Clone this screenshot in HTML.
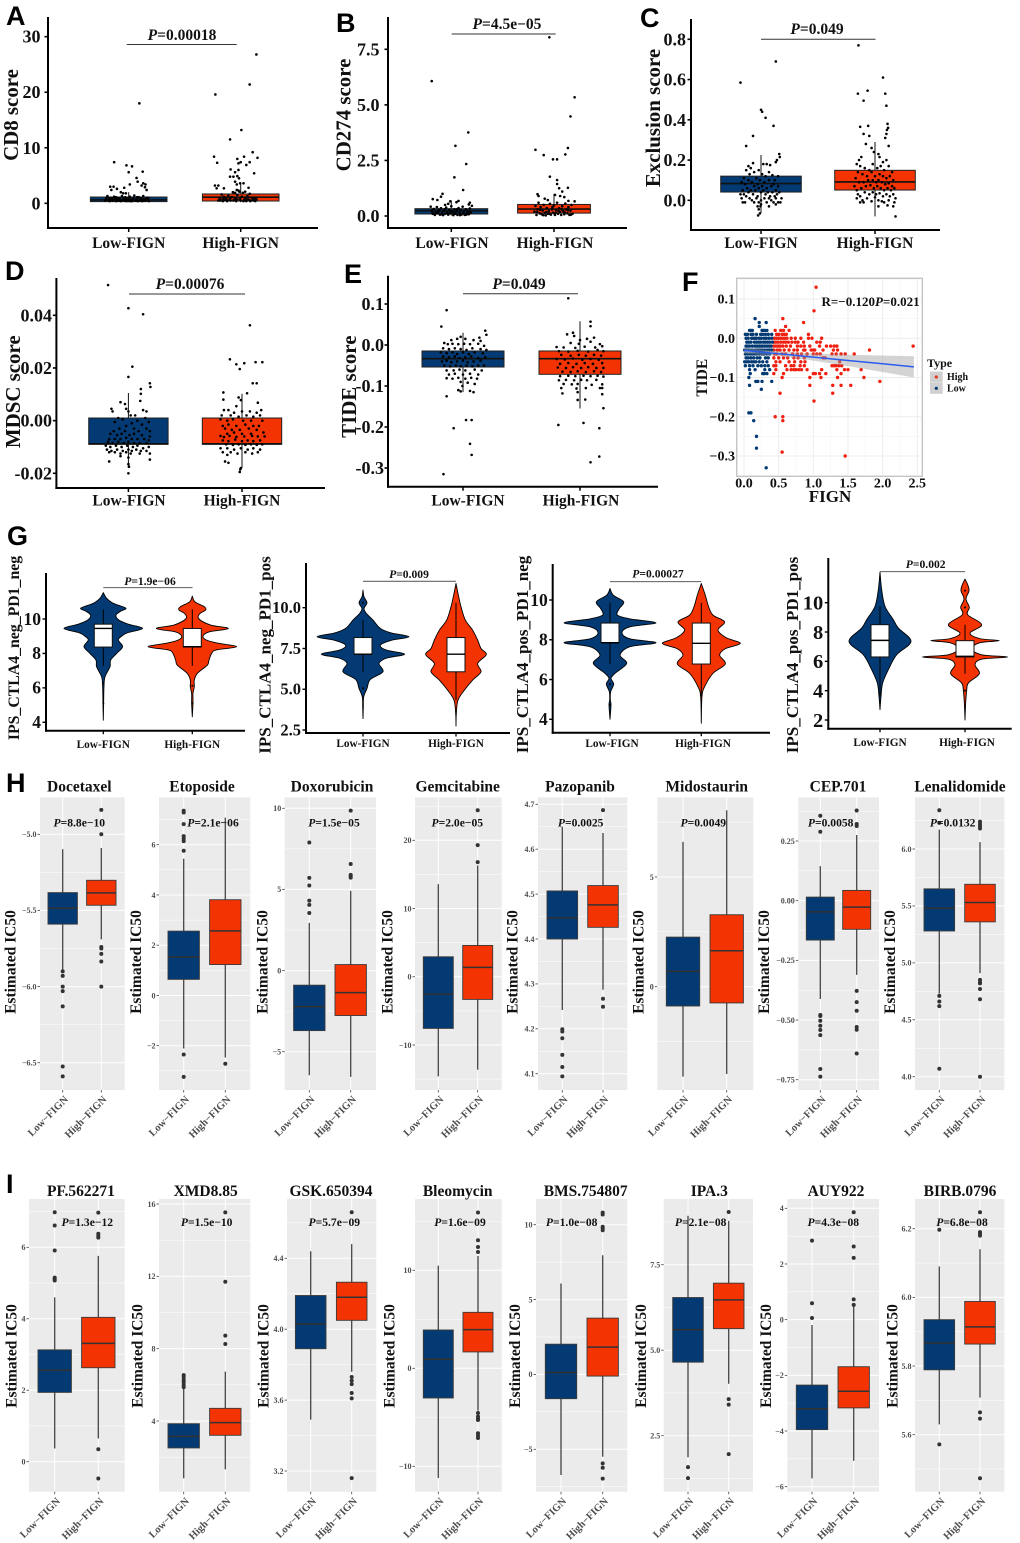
<!DOCTYPE html>
<html lang="en">
<head>
<meta charset="utf-8">
<title>FIGN immune and drug response figure</title>
<style>
html,body{margin:0;padding:0;background:#fff}
svg{display:block;font-family:"Liberation Serif",serif}
text{font-family:"Liberation Serif",serif}
.letter{font-family:"Liberation Sans",sans-serif;font-weight:700;font-size:27px;fill:#000}
</style>
</head>
<body>
<svg id="figure" xmlns="http://www.w3.org/2000/svg" width="1020" height="1543" viewBox="0 0 1020 1543">
<rect width="1020" height="1543" fill="#fff"/>
<text class="letter" x="6" y="25">A</text>
<text class="letter" x="336" y="32">B</text>
<text class="letter" x="640" y="27">C</text>
<text class="letter" x="5" y="280">D</text>
<text class="letter" x="344" y="283">E</text>
<text class="letter" x="682" y="291">F</text>
<text class="letter" x="7" y="545">G</text>
<text class="letter" x="6" y="792">H</text>
<text class="letter" x="6" y="1193">I</text>
</svg>
<script>
/* ---------- panels A-E : strip + box ---------- */
const stripTitles=["CD8 score","CD274 score","Exclusion score","MDSC score","TIDE score"];
const stripP=["0.00018","4.5e\u221205","0.049","0.00076","0.049"];
const stripCategories=["Low-FIGN","High-FIGN"];
const stripTickValues=[[30,20,10,0],[7.5,5,2.5,0],[0.8,0.6,0.4,0.2,0],[0.04,0.02,0,-0.02],[0.1,0,-0.1,-0.2,-0.3]];
const stripTickLabels=[["30","20","10","0"],["7.5","5.0","2.5","0.0"],["0.8","0.6","0.4","0.2","0.0"],["0.04","0.02","0.00","-0.02"],["0.1","0.0","-0.1","-0.2","-0.3"]];
/* q3, median, q1, whisker high, whisker low */
const stripLowBoxes=[[1.13,0.6,0.3,2,0.2],[0.33,0.24,0.09,0.7,0.02],[0.12,0.083,0.041,0.225,-0.063],[0.001,-0.0088,-0.009,0.0105,-0.018],[-0.0146,-0.0333,-0.0537,0.03,-0.115]];
const stripHighBoxes=[[1.68,1.1,0.41,3.5,0.2],[0.52,0.31,0.13,1,0.02],[0.149,0.091,0.051,0.29,-0.08],[0.001,-0.0088,-0.009,0.0102,-0.018],[-0.0146,-0.0333,-0.0715,0.058,-0.155]];
/* jitter (fraction of category spacing), value */
const aLow=[[.095,18],[-.13,7.4],[-.02,6.84],[.03,6.66],[0,5.6],[.125,5.7],[.07,4.56],[.08,3.9],[.01,3.4],[.13,3.6],[.15,3.4],[.115,3.2],[.145,2.9],[.16,2.4],[-.165,3],[-.135,3],[-.155,2.4],[-.105,2.6],[-.04,2.8],[-.07,2],[-.05,1.8],[-.025,1.8],[-.21,.5],[-.2,.9],[-.19,1.3],[-.18,.6],[-.17,.4],[-.16,1],[-.15,.7],[-.14,.5],[-.13,1.2],[-.12,.8],[-.11,.4],[-.1,1],[-.09,.6],[-.08,.9],[-.07,.4],[-.06,1.3],[-.05,.7],[-.04,.5],[-.03,1.1],[-.02,.4],[-.01,.8],[0,.5],[.01,1.2],[.02,.6],[.03,.4],[.04,.9],[.05,1.4],[.06,.5],[.07,.8],[.08,.4],[.09,1.1],[.1,.6],[.11,.9],[.12,.4],[.13,1.3],[.14,.7],[.15,.5],[.16,1],[.17,.6],[.18,.4],[-.205,.7],[-.175,1],[-.145,.9],[-.115,1.1],[-.085,.5],[-.055,.6],[-.025,.8],[.005,.9],[.035,.7],[.065,.6],[.095,.5],[.125,.7],[.155,.8],[.175,1],[-.165,.6],[-.105,.7],[-.045,1],[.015,.4],[.075,1.1],[.135,.5]];
const aHigh=[[.14,26.8],[.08,21.4],[-.226,19.6],[.006,13.2],[-.095,11.5],[.107,9.2],[-.238,8.4],[.15,8.2],[.03,8.4],[-.21,7.3],[-.03,8],[.08,7.4],[.05,6.9],[-.02,7.2],[0,7.4],[-.09,6.1],[-.02,6],[.12,5.4],[-.05,5.6],[-.095,4.8],[-.065,4.8],[-.03,4.9],[-.015,4.5],[-.05,3.9],[-.005,3.6],[.025,3.6],[-.035,3.4],[-.23,3.2],[-.2,3.2],[-.15,2.7],[.07,2.8],[-.215,2.7],[-.035,2.4],[.04,2.1],[-.012,2.1],[-.05,1.9],[-.2,.5],[-.19,1],[-.18,.7],[-.17,1.6],[-.16,.4],[-.15,1.2],[-.14,.6],[-.13,.9],[-.12,.4],[-.11,1.4],[-.1,.7],[-.09,.5],[-.08,1.1],[-.07,2],[-.06,.6],[-.05,.9],[-.04,.4],[-.03,1.5],[-.02,2.3],[-.01,.7],[0,.5],[.01,1.2],[.02,1.9],[.03,.6],[.04,.9],[.05,.4],[.06,1.3],[.07,.7],[.08,1.7],[.09,.5],[.1,1],[.11,.6],[.12,.9],[.13,.4],[.14,.7],[-.185,.5],[-.155,.8],[-.125,.6],[-.095,.9],[-.065,.5],[-.035,.7],[-.005,.9],[.025,.4],[.055,.7],[.085,.4],[.115,.5],[.135,1]];
const bLow=[[-.19,6.07],[.165,3.76],[.04,3.16],[.145,2.34],[.03,1.74],[.115,1.17],[-.085,1],[-.1,.87],[-.18,.76],[-.135,.72],[-.01,.66],[.05,.62],[.07,.68],[.18,.6],[.17,.52],[-.03,.55],[-.06,.5],[-.2,.42],[-.19,.25],[-.18,.1],[-.17,.32],[-.16,.05],[-.15,.18],[-.14,.4],[-.13,.12],[-.12,.28],[-.11,.06],[-.1,.35],[-.09,.15],[-.08,.04],[-.07,.24],[-.06,.1],[-.05,.38],[-.04,.16],[-.03,.06],[-.02,.28],[-.01,.12],[0,.44],[.01,.2],[.02,.04],[.03,.3],[.04,.1],[.05,.2],[.06,.05],[.07,.36],[.08,.14],[.09,.26],[.1,.07],[.11,.42],[.12,.18],[.13,.05],[.14,.3],[.15,.12],[.16,.22],[.17,.08],[.18,.34],[.19,.16],[.2,.46],[-.185,.16],[-.155,.1],[-.125,.2],[-.095,.08],[-.065,.3],[-.035,.12],[-.005,.22],[.025,.14],[.055,.3],[.085,.04],[.115,.12],[.145,.06],[.175,.14]];
const bHigh=[[-.045,8.04],[.2,5.34],[.16,4.48],[-.18,2.98],[.135,3.06],[-.1,2.74],[.11,2.77],[-.01,2.55],[.03,2.55],[-.04,1.77],[.03,1.62],[.03,1.44],[.135,1.27],[.05,1.25],[.08,1.1],[-.16,.98],[-.15,.9],[.01,.95],[.06,.9],[.1,.85],[-.09,.78],[-.06,.72],[.14,.68],[.2,.66],[-.19,.2],[-.18,.45],[-.17,.05],[-.16,.3],[-.15,.6],[-.14,.12],[-.13,.4],[-.12,.08],[-.11,.25],[-.1,.5],[-.09,.14],[-.08,.03],[-.07,.36],[-.06,.1],[-.05,.22],[-.04,.55],[-.03,.06],[-.02,.3],[-.01,.15],[0,.48],[.01,.05],[.02,.26],[.03,.6],[.04,.1],[.05,.35],[.06,.18],[.07,.05],[.08,.44],[.09,.22],[.1,.08],[.11,.56],[.12,.3],[.13,.12],[.14,.4],[.15,.05],[.16,.24],[.17,.5],[.18,.1],[-.165,.18],[-.135,.28],[-.105,.04],[-.075,.18],[-.045,.1],[-.015,.4],[.015,.14],[.045,.22],[.075,.3],[.105,.16],[.135,.26],[.165,.06]];
const cLow=[[.13,.69],[-.18,.585],[0,.45],[.01,.44],[.04,.41],[.11,.37],[-.07,.32],[-.13,.27],[.16,.23],[.165,.215],[.14,.2],[.13,.19],[.02,.18],[.05,.18],[.08,.175],[-.11,.17],[-.09,.16],[-.07,.185],[-.13,.15],[-.1,.13],[-.06,.14],[-.02,.15],[.01,.13],[.04,.12],[.07,.14],[.1,.125],[.12,.1],[.15,.12],[-.15,.11],[-.17,.09],[-.14,.08],[-.12,.06],[-.11,.1],[-.08,.09],[-.06,.07],[-.04,.11],[-.03,.08],[-.01,.1],[.01,.07],[.03,.09],[.05,.06],[.07,.1],[.09,.07],[.11,.08],[.13,.05],[.15,.07],[-.16,.05],[-.15,.03],[-.13,.02],[-.11,.04],[-.09,.05],[-.07,.03],[-.05,.05],[-.03,.02],[-.02,.06],[0,.04],[.02,.05],[.04,.03],[.06,.04],[.08,.02],[.1,.04],[.12,.02],[.14,.03],[.16,.04],[.18,.01],[-.17,.01],[-.18,.03],[-.14,-.01],[-.1,.01],[-.08,0],[-.06,-.01],[-.04,.01],[-.02,-.01],[0,0],[.03,.01],[.05,-.01],[.07,.01],[.09,0],[.11,-.01],[.13,.01],[.15,-.01],[.17,-.01],[-.16,-.01],[-.03,-.03],[0,-.02],[.07,-.03],[.13,-.02],[-.02,-.045],[-.005,-.03],[-.01,-.065],[-.025,-.075]];
const cHigh=[[-.145,.77],[.07,.61],[-.15,.53],[-.065,.545],[.09,.53],[-.1,.495],[.1,.47],[-.13,.365],[-.06,.37],[.11,.38],[.115,.36],[.105,.35],[-.1,.33],[-.05,.32],[.1,.33],[.09,.31],[-.08,.28],[-.03,.26],[.12,.27],[-.12,.215],[-.14,.2],[-.01,.24],[.03,.23],[.04,.215],[.1,.2],[.07,.19],[-.16,.18],[-.13,.17],[-.09,.16],[-.05,.15],[-.02,.18],[.02,.16],[.05,.17],[.08,.15],[.12,.17],[.15,.14],[-.15,.14],[-.11,.13],[-.07,.12],[-.03,.14],[0,.12],[.04,.13],[.07,.12],[.1,.11],[.13,.12],[.16,.1],[-.17,.11],[-.14,.09],[-.1,.09],[-.06,.1],[-.02,.1],[.01,.09],[.03,.1],[.06,.09],[.09,.08],[.12,.085],[.15,.07],[-.18,.07],[-.16,.05],[-.12,.06],[-.08,.07],[-.04,.075],[-.01,.06],[.02,.07],[.05,.06],[.08,.05],[.11,.06],[.14,.05],[.17,.06],[-.15,.03],[-.13,.02],[-.09,.04],[-.05,.03],[-.02,.04],[.01,.03],[.04,.035],[.07,.02],[.1,.03],[.13,.02],[.16,.03],[.18,.01],[-.16,.01],[-.11,0],[-.07,.01],[-.03,-.005],[0,.015],[.03,0],[.06,-.005],[.12,0],[.17,-.01],[-.1,-.01],[.08,-.01],[.03,-.03],[.11,-.025],[-.13,-.01],[.16,-.03],[.18,-.08]];
const dLow=[[-.18,.0515],[0,.0427],[.13,.0404],[.035,.0205],[0,.0166],[.19,.0142],[.11,.012],[.195,.0128],[.11,.0102],[.105,.0075],[-.07,.007],[-.03,.0063],[-.15,.0045],[-.14,.0035],[-.02,.0045],[.0,.0035],[.13,.004],[.16,.0035],[.06,.002],[.02,.002],[-.09,.001],[.15,.001],[-.05,.0005],[.08,0],[-.12,-.0005],[.03,-.001],[.18,-.0005],[-.02,-.002],[.12,-.0015],[-.08,-.003],[.05,-.003],[.16,-.003],[-.13,-.004],[-.03,-.004],[.09,-.004],[.19,-.004],[-.16,-.005],[-.1,-.0055],[-.06,-.005],[.01,-.0055],[.05,-.005],[.12,-.0055],[.19,-.006],[-.17,-.007],[-.12,-.007],[-.07,-.007],[-.02,-.0065],[.03,-.007],[.08,-.007],[.14,-.007],[.18,-.0075],[-.18,-.008],[-.14,-.0085],[-.09,-.008],[-.04,-.0085],[0,-.008],[.05,-.0085],[.1,-.0085],[.16,-.0085],[-.2,-.0095],[-.16,-.01],[-.11,-.0095],[-.06,-.01],[-.01,-.0095],[.04,-.01],[.08,-.0095],[.13,-.0105],[.18,-.01],[-.19,-.011],[-.15,-.0115],[-.1,-.011],[-.05,-.0115],[0,-.011],[.03,-.0115],[.07,-.011],[.11,-.0115],[.16,-.0115],[-.17,-.012],[-.12,-.012],[-.07,-.0125],[-.02,-.012],[.02,-.0125],[.1,-.0125],[.19,-.0125],[-.07,-.0135],[0,-.014],[.19,-.0148],[-.17,-.0155],[0,-.0165],[.005,-.0175],[0,-.02]];
const dHigh=[[.07,.0362],[-.107,.0233],[.12,.0222],[.18,.0222],[-.05,.0214],[.02,.0218],[-.02,.0196],[.095,.0142],[.13,.0142],[-.165,.0107],[.045,.0104],[-.165,.008],[-.03,.0088],[-.01,.0078],[.14,.0068],[-.05,.0055],[.17,.004],[-.16,.004],[-.12,.004],[-.07,.003],[.0,.0035],[.07,.0035],[.13,.003],[-.18,.002],[-.1,.002],[-.03,.0015],[.04,.002],[.1,.0015],[.16,.002],[-.19,.0005],[-.13,0],[-.08,.0005],[.01,0],[.08,0],[.18,0],[-.17,-.002],[-.12,-.0015],[-.05,-.002],[.03,-.0015],[.1,-.002],[.15,-.002],[-.15,-.003],[-.09,-.0035],[-.02,-.0035],[.06,-.003],[.13,-.0035],[-.13,-.005],[-.07,-.0045],[0,-.005],[.08,-.005],[.19,-.0045],[-.19,-.0058],[-.16,-.0062],[-.11,-.0058],[-.05,-.0062],[.02,-.006],[.09,-.0058],[.14,-.006],[.2,-.006],[-.17,-.0075],[-.12,-.0078],[-.06,-.0072],[.0,-.0078],[.05,-.0075],[.1,-.0078],[.16,-.0075],[-.14,-.009],[-.08,-.0092],[-.03,-.009],[.03,-.0092],[.08,-.009],[.13,-.0092],[.18,-.009],[-.19,-.0105],[-.13,-.0105],[-.07,-.011],[-.01,-.0105],[.05,-.011],[.1,-.0105],[.16,-.011],[-.17,-.012],[-.1,-.012],[-.04,-.0125],[.03,-.012],[.09,-.0125],[.14,-.012],[-.13,-.013],[-.15,-.0155],[-.12,-.016],[-.01,-.018],[-.015,-.0185],[-.02,-.0195]];
const eLow=[[-.14,.085],[-.185,.045],[-.167,-.315],[-.08,-.203],[.026,-.183],[.074,-.183],[.06,-.241],[.074,-.268],[.19,.035],[.2,.025],[.14,.018],[.15,.01],[-.05,.015],[-.1,.012],[-.02,.02],[.02,.015],[.09,.012],[-.16,.005],[-.13,.002],[-.09,.003],[-.04,.002],[.01,.003],[.06,.002],[.13,.003],[.18,-.002],[-.17,-.008],[-.12,-.01],[-.07,-.008],[-.02,-.01],[.03,-.012],[.08,-.008],[.15,-.01],[.2,-.012],[-.19,-.018],[-.14,-.02],[-.09,-.018],[-.05,-.022],[0,-.018],[.05,-.022],[.1,-.018],[.17,-.02],[-.17,-.028],[-.12,-.03],[-.07,-.028],[-.03,-.032],[.02,-.03],[.07,-.028],[.13,-.032],[.19,-.03],[-.18,-.04],[-.14,-.038],[-.1,-.042],[-.05,-.04],[0,-.038],[.04,-.042],[.09,-.04],[.15,-.038],[-.16,-.05],[-.11,-.052],[-.06,-.05],[-.02,-.052],[.03,-.05],[.08,-.052],[.13,-.05],[.18,-.05],[-.14,-.062],[-.08,-.062],[-.03,-.06],[.02,-.062],[.1,-.06],[.16,-.062],[-.12,-.072],[-.07,-.07],[0,-.072],[.06,-.07],[.13,-.072],[-.14,-.081],[-.09,-.082],[-.04,-.08],[.02,-.082],[.07,-.08],[.12,-.082],[-.02,-.09],[-.005,-.1],[.04,-.092],[.1,-.095],[-.04,-.11],[-.02,-.113],[.06,-.112],[.09,-.115],[-.14,-.125]];
const eHigh=[[-.1,.114],[.09,.057],[.09,.046],[-.185,-.195],[.03,-.19],[.165,-.203],[.09,-.286],[.165,-.272],[.2,-.154],[.19,-.12],[-.02,-.134],[.045,-.133],[-.15,-.118],[-.11,.026],[-.06,.03],[-.05,.022],[0,.012],[.06,.015],[.12,.018],[-.08,.005],[-.01,.003],[.09,.008],[.17,.002],[-.2,-.005],[-.14,-.006],[-.04,-.007],[.04,-.004],[.13,-.006],[.19,-.003],[-.18,-.015],[-.1,-.016],[-.02,-.014],[.07,-.016],[.15,-.012],[.2,-.015],[-.16,-.024],[-.08,-.026],[-.01,-.024],[.05,-.026],[.12,-.024],[.18,-.026],[-.2,-.034],[-.13,-.035],[-.06,-.033],[.02,-.036],[.09,-.034],[.16,-.036],[-.17,-.046],[-.1,-.044],[-.03,-.046],[.04,-.044],[.11,-.046],[.19,-.044],[-.19,-.055],[-.12,-.056],[-.06,-.054],[.01,-.056],[.07,-.054],[.14,-.056],[.2,-.056],[-.15,-.065],[-.08,-.066],[-.02,-.064],[.05,-.066],[.12,-.064],[.18,-.066],[-.17,-.076],[-.1,-.075],[-.04,-.076],[.03,-.075],[.09,-.076],[.15,-.075],[.2,-.077],[-.18,-.086],[-.12,-.085],[-.05,-.086],[.01,-.085],[.06,-.086],[.14,-.085],[-.14,-.095],[-.07,-.096],[-.02,-.095],[.1,-.097],[.19,-.096],[-.16,-.105],[-.03,-.106],[.05,-.105],[.17,-.105],[-.02,-.115],[.19,-.105]];
const stripPoints=[[aLow,aHigh],[bLow,bHigh],[cLow,cHigh],[dLow,dHigh],[eLow,eHigh]];

/* ---------- panel F : correlation scatter ---------- */
const scatterXTicks=[0,0.5,1,1.5,2,2.5];
const scatterXLabels=["0.0","0.5","1.0","1.5","2.0","2.5"];
const scatterYTicks=[0.1,0,-0.1,-0.2,-0.3];
const scatterYLabels=["0.1","0.0","\u22120.1","\u22120.2","\u22120.3"];
/* each row: TIDE value, FIGN values */
const scatterLowRows=[[.05,[.16]],[.04,[.22,.32]],[.03,[.22]],[.02,[.08,.1,.12,.26,.28,.3,.33]],[.01,[.02,.05,.1,.13,.18,.24,.27,.31,.35,.4]],[0,[.03,.06,.11,.13,.16,.18,.22,.25,.29,.32,.36,.4]],[-.01,[.04,.07,.1,.15,.18,.21,.24,.28,.31,.34,.37,.41]],[-.02,[.03,.05,.08,.12,.16,.19,.22,.25,.27,.3,.33,.36,.39]],[-.03,[.01,.04,.07,.1,.13,.17,.2,.23,.26,.3,.34,.37,.4]],[-.04,[.02,.05,.09,.12,.15,.18,.22,.26,.29,.33,.37]],[-.05,[.03,.06,.1,.14,.19,.23,.31,.35]],[-.06,[.01,.04,.07,.11,.14,.17,.22,.27,.33]],[-.07,[.02,.08,.13,.2,.25,.3,.35]],[-.08,[.08,.16,.3,.37]],[-.09,[.09,.27,.29,.33]],[-.1,[.07]],[-.11,[.17,.2,.26,.4]],[-.12,[.08]],[-.13,[.25]],[-.19,[.07,.1]],[-.21,[.14]],[-.25,[.18]],[-.28,[.18]],[-.33,[.32]]];
const scatterHighRows=[[.13,[1.04]],[.07,[1.01]],[.05,[.56]],[.04,[.86]],[.03,[.6]],[.02,[.45,.53,.57,.65]],[.01,[.47,.5,.55,.58,.61,.93]],[0,[.44,.47,.5,.53,.56,.59,.62,.68,.74,.82,.93,.98,1.12]],[-.01,[.43,.46,.49,.53,.57,.6,.64,.69,.74,.78,.86,1.05,1.1]],[-.02,[.43,.46,.49,.52,.56,.61,.67,.77,.82,.87,.95,1.09,1.19,1.25,1.3,1.34,2.44]],[-.03,[.43,.48,.52,.58,.65,.72,.77,.86,.88,.97,1,1.02,1.14,1.29,1.35,1.81]],[-.04,[.44,.47,.55,.6,.7,.77,.83,.91,1,1.05,1.1,1.27,1.33,1.4,1.46,1.59]],[-.05,[.43,.5,.57,.63,.72,.78,.87,1.14,1.17]],[-.06,[.46,.52,.65,.73,.82,.88,1.38]],[-.07,[.43,.46,.6,.68,.72,.81,.87,1.27,1.3,1.33,1.37,1.41]],[-.08,[.46,.62,.68,.72,.75,.79,.83,.91,1.12,1.34,1.45,1.5,1.69]],[-.09,[.43,.57,1,1.03,1.09,1.18,1.4]],[-.1,[.55,.95,1.11,1.35,1.73]],[-.11,[1.96]],[-.12,[.95,1.28,1.4,1.54]],[-.14,[.52,1.28]],[-.16,[1.01]],[-.2,[.45,.56]],[-.21,[.56]],[-.29,[.55]],[-.3,[1.46]]];
const fitX=[0,0.5,1,1.5,2,2.45];
const fitY=[-0.031,-0.0396,-0.048,-0.0566,-0.065,-0.073];
const fitUpper=[-0.024,-0.033,-0.039,-0.042,-0.044,-0.046];
const fitLower=[-0.039,-0.046,-0.057,-0.071,-0.086,-0.1];

/* ---------- panel G : violins ---------- */
const violinTitles=["IPS_CTLA4_neg_PD1_neg","IPS_CTLA4_neg_PD1_pos","IPS_CTLA4_pos_PD1_neg","IPS_CTLA4_pos_PD1_pos"];
const violinP=["1.9e\u221206","0.009","0.00027","0.002"];
const violinTickValues=[[10,8,6,4],[10,7.5,5,2.5],[10,8,6,4],[10,8,6,4,2]];
const violinTickLabels=[["10","8","6","4"],["10.0","7.5","5.0","2.5"],["10","8","6","4"],["10","8","6","4","2"]];
/* value, density */
const g1LowShape=[[11.53,0],[11.2,10],[10.95,26],[10.8,45],[10.62,68],[10.45,52],[10.23,38],[9.95,46],[9.7,75],[9.45,118],[9.2,72],[9.0,55],[8.78,45],[8.39,58],[8,40],[7.61,22],[7.22,20],[6.64,5],[6.06,2],[5.09,1],[4.12,0]];
const g1HighShape=[[11.33,0],[11,8],[10.71,36],[10.52,40],[10.3,22],[10,20],[9.65,55],[9.45,108],[9.25,50],[9,32],[8.78,42],[8.6,75],[8.39,133],[8.2,72],[8,58],[7.61,50],[7.32,45],[6.84,15],[6.45,6],[6.06,6],[5.67,2],[5.09,2],[4.32,0]];
const g2LowShape=[[11.08,0],[10.67,3],[10.3,12],[9.95,3],[9.65,10],[9.24,30],[8.73,52],[8.45,85],[8.22,138],[8,85],[7.7,52],[7.4,70],[7.15,125],[6.9,70],[6.58,48],[6.07,60],[5.6,22],[5.05,12],[4.53,2],[3.92,1],[3.2,0]];
const g2HighShape=[[11.49,0],[10.87,6],[10.06,15],[9.24,28],[8.62,50],[8.01,65],[7.5,75],[7.13,91],[6.58,65],[6.07,75],[5.56,50],[4.94,25],[4.33,6],[3.5,1],[2.74,0]];
const g3LowShape=[[10.58,0],[10.24,10],[9.91,41],[9.57,28],[9.24,22],[9.05,60],[8.85,138],[8.65,60],[8.35,36],[8.05,60],[7.85,138],[7.65,60],[7.23,30],[6.81,50],[6.31,15],[6.06,3],[5.77,11],[5.39,2],[4.97,1],[4.72,3],[4,0]];
const g3HighShape=[[10.83,0],[10.24,12],[9.66,22],[9.24,35],[8.9,70],[8.49,50],[8.1,75],[7.82,117],[7.55,72],[7.23,55],[6.78,72],[6.31,35],[5.64,10],[5.14,2],[3.8,0]];
const g4LowShape=[[12.09,0],[10.89,5],[9.75,15],[8.84,40],[8.27,55],[7.36,93],[6.45,50],[5.43,25],[4.52,8],[3.61,3],[2.7,0]];
const g4HighShape=[[11.61,0],[11.23,8],[10.82,12],[10.25,3],[9.68,13],[9.18,8],[8.5,50],[7.93,15],[7.55,45],[7.41,103],[7.27,45],[6.86,20],[6.45,50],[6.3,128],[6.15,50],[5.77,30],[5.16,43],[4.52,10],[4,5],[3.16,2],[2,0]];
const violinShapes=[[g1LowShape,g1HighShape],[g2LowShape,g2HighShape],[g3LowShape,g3HighShape],[g4LowShape,g4HighShape]];
const violinLowBoxes=[[9.7,9.45,8.37,10.56,7.28],[8.17,7.15,7.15,9.24,6.07],[8.84,7.85,7.85,9.86,6.78],[8.5,7.43,6.3,9.75,3.61]];
const violinHighBoxes=[[9.45,8.39,8.37,10.56,7.28],[8.17,7.15,6.07,10.3,4.33],[8.84,7.82,6.78,9.86,5.14],[7.41,6.34,6.3,8.5,5.16]];
const violinLowOutliers=[[6.26,5.1],[10.3,5.05],[5.77,4.72],[]];
const violinHighOutliers=[[6.12,5.1],[],[],[10.82,9.68,4]];

/* ---------- panels H and I : drug IC50 boxplots ---------- */
const drugNames=["Docetaxel","Etoposide","Doxorubicin","Gemcitabine","Pazopanib","Midostaurin","CEP.701","Lenalidomide","PF.562271","XMD8.85","GSK.650394","Bleomycin","BMS.754807","IPA.3","AUY922","BIRB.0796"];
const drugP=["8.8e\u221210","2.1e\u221206","1.5e\u221205","2.0e\u221205","0.0025","0.0049","0.0058","0.0132","1.3e\u221212","1.5e\u221210","5.7e\u221209","1.6e\u221209","1.0e\u221208","2.1e\u221208","4.3e\u221208","6.8e\u221208"];
const drugTickValues=[[-5,-5.5,-6,-6.5],[6,4,2,0,-2],[10,5,0,-5],[20,10,0,-10],[4.7,4.6,4.5,4.4,4.3,4.2,4.1],[5,0],[.25,0,-.25,-.5,-.75],[6,5.5,5,4.5,4],[6,4,2,0],[16,12,8,4],[4.4,4,3.6,3.2],[10,0,-10],[10,5,0,-5],[7.5,5,2.5],[4,2,0,-2,-4,-6],[6.2,6,5.8,5.6]];
const drugTickLabels=[["\u22125.0","\u22125.5","\u22126.0","\u22126.5"],["6","4","2","0","\u22122"],["10","5","0","\u22125"],["20","10","0","\u221210"],["4.7","4.6","4.5","4.4","4.3","4.2","4.1"],["5","0"],["0.25","0.00","\u22120.25","\u22120.50","\u22120.75"],["6.0","5.5","5.0","4.5","4.0"],["6","4","2","0"],["16","12","8","4"],["4.4","4.0","3.6","3.2"],["10","0","\u221210"],["10","5","0","\u22125"],["7.5","5.0","2.5"],["4","2","0","\u22122","\u22124","\u22126"],["6.2","6.0","5.8","5.6"]];
/* q3, median, q1, whisker high, whisker low */
const drugLowBoxes=[[-5.383,-5.486,-5.59,-5.098,-5.89],[2.56,1.525,.64,5.44,-2.11],[-.9,-2.22,-3.7,2.94,-6.45],[2.93,-2.54,-7.57,13.58,-14.6],[4.507,4.447,4.4,4.65,4.242],[2.26,.7,-.88,6.6,-4.1],[.015,-.047,-.165,.145,-.412],[5.65,5.48,5.28,6.17,4.73],[3.13,2.56,1.94,4.6,.37],[3.85,3.15,2.51,5.8,.83],[4.19,4.03,3.89,4.44,3.49],[3.91,.92,-3.03,10.48,-11.2],[2.02,.13,-1.62,6.07,-6.72],[6.54,5.6,4.65,8.93,1.87],[-2.35,-3.2,-3.95,-.19,-5.7],[5.935,5.867,5.789,6.09,5.63]];
const drugHighBoxes=[[-5.302,-5.385,-5.466,-5.09,-5.69],[3.81,2.57,1.23,7.08,-2.47],[.37,-1.36,-2.77,4.91,-6.55],[4.59,1.37,-3.32,16.3,-13.63],[4.519,4.476,4.426,4.636,4.287],[3.28,1.64,-.74,8.04,-3.98],[.043,-.027,-.12,.275,-.311],[5.69,5.53,5.36,6.06,4.91],[4.04,3.31,2.63,5.76,.65],[4.7,3.91,3.21,6.73,1.33],[4.265,4.18,4.05,4.48,3.76],[5.71,3.95,1.67,11.46,-4.32],[3.76,1.82,-.11,7.96,-5.5],[6.96,6.47,5.63,8.78,4.02],[-1.69,-2.57,-3.17,.47,-5.07],[5.988,5.914,5.864,6.14,5.708]];
const drugLowOutliers=[[-5.9,-5.93,-6,-6.03,-6.13,-6.525,-6.59],[7.35,7.28,6.82,6.34,6.24,6.14,5.76,-2.35,-3.24],[7.89,5.71,5.24,4.31,4.05,3.55],[],[4.199,4.194,4.179,4.142,4.115,4.094],[],[.356,.289,-.479,-.483,-.503,-.524,-.542,-.563,-.705,-.737],[6.34,6.23,4.71,4.66,4.62,4.07],[6.98,6.61,5.91,5.15,5.11,5.07],[6.54,6.41,6.27,6.14,5.99,5.87],[],[],[],[1.58,1.26],[2.84,.59,.06],[6.197,5.572]];
const drugHighOutliers=[[-4.84,-5,-5.74,-5.75,-5.785,-5.835,-6],[-2.72],[9.86,6.57,5.9,5.81,5.73],[24.4,19.3,16.8],[4.687,4.267,4.249],[],[.378,.321,.313,-.378,-.425,-.461,-.529,-.541,-.64],[6.24,6.22,6.2,6.18,4.85,4.83,4.82,4.77,4.68,4],[6.97,6.38,6.32,6.27,.35,-.47],[15.54,11.7,8.72,8.26],[4.66,3.73,3.71,3.69,3.64,3.61,3.16],[15.9,13.06,12.38,11.87,-4.56,-4.93,-5.14,-5.27,-6.63,-6.87,-7.11],[10.81,10.68,9.86,9.77,9.63,-5.94,-6.23,-6.96],[9.04,3.57,3.41,1.96],[3.86,2.63,2.22,.73,.53],[6.248,6.19,6.185,6.18,5.665,5.647,5.473]];

/* ---------- layout (axis geometry only) ---------- */
const LOW='#033a73',HIGH='#f43303';
const NS='http://www.w3.org/2000/svg';
const root=document.getElementById('figure');
function mk(tag,attrs,parent,txt){
  const el=document.createElementNS(NS,tag);
  for(const k in attrs)el.setAttribute(k,attrs[k]);
  if(txt!==undefined)el.textContent=txt;
  (parent||root).appendChild(el);
  return el;
}
function linearScale(vA,pA,vB,pB){return v=>pA+(v-vA)*(pB-pA)/(vB-vA);}
function slug(s){return s.toLowerCase().replace(/[^a-z0-9]+/g,'-');}
function pLabel(parent,x,y,value,size,name){
  const t=mk('text',{x:x,y:y,'text-anchor':'middle','font-size':size,'font-weight':'700',fill:'#111'},parent);
  
  
  mk('tspan',{'font-style':'italic'},t,'P');
  mk('tspan',{},t,'='+value);
  return t;
}
function yTitle(parent,x,y,txt,size,name){
  const t=mk('text',{transform:'translate('+x+','+y+') rotate(-90)','text-anchor':'middle','font-size':size,'font-weight':'700',fill:'#111'},parent,txt);
  
  
  return t;
}
/* Catmull-Rom curve that passes through every density point, so spikes keep full width */
function smoothEdge(pts){
  let d='L'+pts[0][0]+' '+pts[0][1];
  for(let i=0;i<pts.length-1;i++){
    const p0=pts[Math.max(0,i-1)],p1=pts[i],p2=pts[i+1],p3=pts[Math.min(pts.length-1,i+2)];
    const c1x=p1[0]+(p2[0]-p0[0])/6,c1y=p1[1]+(p2[1]-p0[1])/6;
    const c2x=p2[0]-(p3[0]-p1[0])/6,c2y=p2[1]-(p3[1]-p1[1])/6;
    d+='C'+c1x+' '+c1y+' '+c2x+' '+c2y+' '+p2[0]+' '+p2[1];
  }
  return d;
}

/* ---------- draw A-E ---------- */
const stripLayout=[
 {ax:48,top:17,bot:228,right:318,c:[128.7,240.7],lab:[128.7,240.7],hw:38.3,s:[30,36.7,0,203.3],ty:[11,115],p:[182,40],line:[126.7,236.7,44.5],labY:248,sp:112,tickEnd:40.5},
 {ax:388,top:17,bot:228,right:627,c:[451.3,554],lab:[452,555],hw:36.4,s:[7.5,49.3,0,216],ty:[343.7,115],p:[507,29],line:[451.7,555.7,34],labY:248,sp:103,tickEnd:379.5},
 {ax:691,top:19,bot:230,right:940,c:[761,875],lab:[761,875],hw:40.3,s:[0.8,39.3,0,200.3],ty:[653,118],p:[817,34],line:[761,875.5,39.3],labY:248,sp:114,tickEnd:686},
 {ax:56.4,top:278,bot:488,right:325,c:[128.4,242],lab:[129,242],hw:39.7,s:[0.04,315.3,-0.02,473.3],ty:[13,391.7],p:[190,289],line:[129,245,294],labY:505.5,sp:113,tickEnd:52},
 {ax:388,top:275.7,bot:486.7,right:658,c:[463,580],lab:[468,581],hw:41,s:[0.1,304,-0.3,468],ty:[349,386.7],p:[519,289],line:[463,578,293.7],labY:505.5,sp:117,tickEnd:384}
];
stripLayout.forEach((L,i)=>{
  const g=mk('g',{});
  
  
  const y=linearScale(L.s[0],L.s[1],L.s[2],L.s[3]);
  const ya=mk('line',{x1:L.ax,x2:L.ax,y1:L.top,y2:L.bot+1,stroke:'#000','stroke-width':2},g);
  
  
  const xa=mk('line',{x1:L.ax-1,x2:L.right,y1:L.bot,y2:L.bot,stroke:'#000','stroke-width':2},g);
  
  
  stripTickValues[i].forEach((v,k)=>{
    const tm=mk('line',{x1:L.ax-3.5,x2:L.ax,y1:y(v),y2:y(v),stroke:'#000','stroke-width':1.6},g);
    
    
    const tl=mk('text',{x:L.tickEnd,y:y(v)+6,'text-anchor':'end','font-size':18,'font-weight':'700',fill:'#111'},g,stripTickLabels[i][k]);
    
    
  });
  yTitle(g,L.ty[0]+7,L.ty[1],stripTitles[i],20.9,'y-axis-title');
  pLabel(g,L.p[0],L.p[1],stripP[i],15.5,'p-value');
  const br=mk('line',{x1:L.line[0],x2:L.line[1],y1:L.line[2],y2:L.line[2],stroke:'#333','stroke-width':1},g);
  
  
  [stripLowBoxes[i],stripHighBoxes[i]].forEach((b,k)=>{
    const cx=L.c[k],col=k?HIGH:LOW;
    const wh=mk('line',{x1:cx,x2:cx,y1:y(b[3]),y2:y(b[4]),stroke:'#111','stroke-width':1},g);
    
    
    const bx=mk('rect',{x:cx-L.hw,width:2*L.hw,y:y(b[0]),height:y(b[2])-y(b[0]),fill:col,stroke:'#222','stroke-width':1},g);
    
    
    const md=mk('line',{x1:cx-L.hw,x2:cx+L.hw,y1:y(b[1]),y2:y(b[1]),stroke:'#111','stroke-width':1.6},g);
    
    
    stripPoints[i][k].forEach(pt=>{
      const c=mk('circle',{cx:cx+pt[0]*L.sp,cy:y(pt[1]),r:1.3,fill:'#000'},g);
      
      
    });
    const tk=mk('line',{x1:cx,x2:cx,y1:L.bot,y2:L.bot+4,stroke:'#000','stroke-width':1.5},g);
    
    
    const lb=mk('text',{x:L.lab[k],y:L.labY,'text-anchor':'middle','font-size':15.5,'font-weight':'700',fill:'#111'},g,stripCategories[k]);
    
    
  });
});

/* ---------- draw F ---------- */
(function(){
  const g=mk('g',{});
  
  
  const x=linearScale(0,744,2.5,917.3),y=linearScale(0.1,299,-0.3,456);
  const bg=mk('rect',{x:736.7,y:278.3,width:185.6,height:198,fill:'#fff',stroke:'#c4c4c4','stroke-width':1.4},g);
  
  
  scatterXTicks.forEach((v,k)=>{
    if(k<scatterXTicks.length-1){
      const m=mk('line',{x1:x(v+.25),x2:x(v+.25),y1:279,y2:476,stroke:'#f6f6f6','stroke-width':.7},g);
      
      
    }
    const l=mk('line',{x1:x(v),x2:x(v),y1:279,y2:476,stroke:'#ececec','stroke-width':1},g);
    
    
    const t=mk('text',{x:x(v),y:487.5,'text-anchor':'middle','font-size':14,'font-weight':'700',fill:'#111'},g,scatterXLabels[k]);
    
    
  });
  scatterYTicks.forEach((v,k)=>{
    const m=mk('line',{x1:737,x2:922,y1:y(v+.05),y2:y(v+.05),stroke:'#f6f6f6','stroke-width':.7},g);
    
    
    const l=mk('line',{x1:737,x2:922,y1:y(v),y2:y(v),stroke:'#ececec','stroke-width':1},g);
    
    
    const t=mk('text',{x:735,y:y(v)+4.5,'text-anchor':'end','font-size':14,'font-weight':'700',fill:'#111'},g,scatterYLabels[k]);
    
    
  });
  scatterHighRows.forEach(r=>r[1].forEach(v=>{
    const c=mk('circle',{cx:x(v),cy:y(r[0]),r:1.7,fill:'#f02010'},g);
    
    
  }));
  scatterLowRows.forEach(r=>r[1].forEach(v=>{
    const c=mk('circle',{cx:x(v),cy:y(r[0]),r:1.7,fill:LOW},g);
    
    
  }));
  let band='';
  fitX.forEach((v,k)=>{band+=(k?'L':'M')+x(v)+' '+y(fitUpper[k]);});
  for(let k=fitX.length-1;k>=0;k--)band+='L'+x(fitX[k])+' '+y(fitLower[k]);
  const bd=mk('path',{d:band+'Z',fill:'#999','fill-opacity':.42},g);
  
  
  const ln=mk('polyline',{points:fitX.map((v,k)=>x(v)+','+y(fitY[k])).join(' '),fill:'none',stroke:'#2a5cf0','stroke-width':1.5},g);
  
  
  const st=mk('text',{x:821.5,y:306,'font-size':13,'font-weight':'700',fill:'#111'},g);
  
  
  mk('tspan',{},st,'R=\u22120.120');
  mk('tspan',{'font-style':'italic'},st,'P');
  mk('tspan',{},st,'=0.021');
  const xt=mk('text',{x:830,y:502,'text-anchor':'middle','font-size':17,'font-weight':'700',fill:'#111'},g,'FIGN');
  
  
  yTitle(g,707,377.7,'TIDE',15.5,'y-axis-title');
  const lt=mk('text',{x:927,y:367,'font-size':12,'font-weight':'700',fill:'#111'},g,'Type');
  
  
  [['High',377,'#e8391d'],['Low',388.3,LOW]].forEach(e=>{
    const kb=mk('rect',{x:930,y:e[1]-5.5,width:12.7,height:11,fill:'#d0d0d0'},g);
    
    
    const kd=mk('circle',{cx:936.3,cy:e[1],r:1.6,fill:e[2]},g);
    
    
    const kt=mk('text',{x:947,y:e[1]+3,'font-size':10,'font-weight':'700',fill:'#111'},g,e[0]);
    
    
  });
})();

/* ---------- draw G ---------- */
const violinLayout=[
 {ax:46,top:573,bot:730.7,right:245,c:[103.3,192.3],s:[10,619,4,722.3],ty:[19,648,15.8],p:[150,585],line:[103.3,192.6,587.7],labY:748,lab:[103.3,192.3],fs:17.5},
 {ax:306,top:563,bot:733,right:510,c:[363,456],s:[10,607.7,2.5,730],ty:[270.5,655,17],p:[409,578],line:[363,456,581.3],labY:747,lab:[363,456],fs:16.5},
 {ax:552.7,top:564,bot:732.7,right:770,c:[610,701.3],s:[10,600,4,719.3],ty:[528,654.5,17],p:[658,577.5],line:[610,701.3,581.7],labY:747,lab:[612,703],fs:17.5},
 {ax:828.3,top:558,bot:728.7,right:1011.7,c:[880,965],s:[10,602.7,2,720],ty:[798,655,17],p:[925.7,568],line:[880,965,571.7],labY:746,lab:[880,967],fs:20.5}
];
const violinNames=['low','high'];
violinLayout.forEach((L,i)=>{
  const g=mk('g',{});
  
  
  const y=linearScale(L.s[0],L.s[1],L.s[2],L.s[3]);
  violinShapes[i].forEach((shape,k)=>{
    const cx=L.c[k];
    const rightSide=shape.map(p=>[cx+p[1]/3,y(p[0])]);
    const leftSide=shape.map(p=>[cx-p[1]/3,y(p[0])]).reverse();
    const d='M'+cx+' '+y(shape[0][0])+smoothEdge(rightSide)+smoothEdge(leftSide)+'Z';
    const v=mk('path',{d:d,fill:k?HIGH:LOW,stroke:'#000','stroke-width':.9,'stroke-linejoin':'round'},g);
    
    
    const b=(k?violinHighBoxes:violinLowBoxes)[i];
    const wh=mk('line',{x1:cx,x2:cx,y1:y(b[3]),y2:y(b[4]),stroke:'#000','stroke-width':1},g);
    
    
    const bx=mk('rect',{x:cx-9,width:18,y:y(b[0]),height:y(b[2])-y(b[0]),fill:'#fff',stroke:'#111','stroke-width':1},g);
    
    
    const md=mk('line',{x1:cx-9,x2:cx+9,y1:y(b[1]),y2:y(b[1]),stroke:'#000','stroke-width':1.4},g);
    
    
    (k?violinHighOutliers:violinLowOutliers)[i].forEach(o=>{
      const c=mk('circle',{cx:cx,cy:y(o),r:1,fill:'#000'},g);
      
      
    });
    const tk=mk('line',{x1:cx,x2:cx,y1:L.bot,y2:L.bot+3.5,stroke:'#000','stroke-width':1.3},g);
    
    
    const lb=mk('text',{x:L.lab[k],y:L.labY,'text-anchor':'middle','font-size':11.3,'font-weight':'700',fill:'#111'},g,stripCategories[k]);
    
    
  });
  const ya=mk('line',{x1:L.ax,x2:L.ax,y1:L.top,y2:L.bot+1,stroke:'#000','stroke-width':2},g);
  
  
  const xa=mk('line',{x1:L.ax-1,x2:L.right,y1:L.bot,y2:L.bot,stroke:'#000','stroke-width':2},g);
  
  
  violinTickValues[i].forEach((v,k)=>{
    const tm=mk('line',{x1:L.ax-3.5,x2:L.ax,y1:y(v),y2:y(v),stroke:'#000','stroke-width':1.4},g);
    
    
    const tl=mk('text',{x:L.ax-5,y:y(v)+L.fs*.33,'text-anchor':'end','font-size':L.fs,'font-weight':'700',fill:'#111'},g,violinTickLabels[i][k]);
    
    
  });
  yTitle(g,L.ty[0],L.ty[1],violinTitles[i],L.ty[2],'y-axis-title');
  pLabel(g,L.p[0],L.p[1],violinP[i],11.6,'p-value');
  const br=mk('line',{x1:L.line[0],x2:L.line[1],y1:L.line[2],y2:L.line[2],stroke:i===1?'#666':'#444','stroke-width':i===1?1.2:.9},g);
  
  
});

/* ---------- draw H and I ---------- */
const HY=[797.3,1090,791.5,826.7],IY=[1199,1491.7,1196,1226];
const drugLayout=[
 {x:[40,124.7],c:[62.7,101.3],hw:14.7,t:79.3,yl:10.7,p:79.3,s:[-5,834.3,-6.5,1062.7],r:HY},
 {x:[159,250.3],c:[183.7,225.3],hw:15.7,t:202,yl:136,p:213,s:[6,844.7,-2,1045.7],r:HY},
 {x:[284.7,376],c:[309.3,350.7],hw:15.7,t:332,yl:262.7,p:334,s:[10,808.3,-5,1051.7],r:HY},
 {x:[415,501.7],c:[438.3,477.7],hw:15,t:457.7,yl:387.3,p:457.3,s:[20,840.3,-10,1045],r:HY},
 {x:[538,627.3],c:[562.3,603],hw:15.3,t:580,yl:512.7,p:580.7,s:[4.7,804.3,4.1,1073.7],r:HY},
 {x:[657.3,753.3],c:[683,726.7],hw:16.7,t:706.7,yl:638.3,p:703.3,s:[5,877,0,986.7],r:HY},
 {x:[798.3,879],c:[820.3,856.7],hw:14,t:838,yl:764,p:830.7,s:[.25,841,-.75,1079.7],r:HY},
 {x:[915,1004.3],c:[939.3,980],hw:15.3,t:960,yl:890,p:952.7,s:[6,849,4,1076.7],r:HY},
 {x:[29,124.7],c:[54.7,98.3],hw:16.7,t:81,yl:11.7,p:87.3,s:[6,1247.3,0,1461.7],r:IY},
 {x:[159,250.3],c:[183.7,225.3],hw:15.7,t:205.7,yl:137.3,p:206.7,s:[16,1204,4,1421],r:IY},
 {x:[287,376.3],c:[310.7,351.7],hw:15.3,t:331,yl:263.3,p:334.3,s:[4.4,1258.3,3.2,1471],r:IY},
 {x:[415,501.7],c:[438.3,478],hw:15,t:457.7,yl:389.3,p:460,s:[10,1270.3,-10,1466.3],r:IY},
 {x:[536,627.3],c:[561,602.7],hw:15.7,t:585.7,yl:515,p:571.7,s:[10,1224.7,-5,1449.3],r:IY},
 {x:[663.7,753],c:[688,728.7],hw:15.3,t:709.3,yl:641,p:700.7,s:[7.5,1264.7,2.5,1435.7],r:IY},
 {x:[787.3,879],c:[812,853.7],hw:15.7,t:836,yl:766,p:833.3,s:[4,1208.3,-6,1486.7],r:IY},
 {x:[915,1004.3],c:[939.3,980],hw:15.3,t:960,yl:892.7,p:962,s:[6.2,1228.7,5.6,1434.7],r:IY}
];
const drugCategories=["Low\u2212FIGN","High\u2212FIGN"];
drugLayout.forEach((L,i)=>{
  const g=mk('g',{});
  
  
  const y=linearScale(L.s[0],L.s[1],L.s[2],L.s[3]);
  const Y0=L.r[0],Y1=L.r[1],ticks=drugTickValues[i];
  const bg=mk('rect',{x:L.x[0],y:Y0,width:L.x[1]-L.x[0],height:Y1-Y0,fill:'#ebebeb'},g);
  
  
  const step=ticks[0]-ticks[1];
  const minors=[ticks[0]+step/2].concat(ticks.map(t=>t-step/2));
  minors.forEach(v=>{
    if(y(v)<Y0||y(v)>Y1)return;
    const m=mk('line',{x1:L.x[0],x2:L.x[1],y1:y(v),y2:y(v),stroke:'#fff','stroke-width':.5},g);
    
    
  });
  ticks.forEach((v,k)=>{
    const l=mk('line',{x1:L.x[0],x2:L.x[1],y1:y(v),y2:y(v),stroke:'#fff','stroke-width':1},g);
    
    
    const tm=mk('line',{x1:L.x[0]-2.5,x2:L.x[0],y1:y(v),y2:y(v),stroke:'#444','stroke-width':.8},g);
    
    
    const tl=mk('text',{x:L.x[0]-3.5,y:y(v)+2.8,'text-anchor':'end','font-size':8,'font-weight':'700',fill:'#4d4d4d'},g,drugTickLabels[i][k]);
    
    
  });
  const ti=mk('text',{x:L.t,y:L.r[2],'text-anchor':'middle','font-size':15.5,'font-weight':'700',fill:'#111'},g,drugNames[i]);
  
  
  yTitle(g,L.yl+5,(Y0+Y1)/2+(i>=8?10.6:18.4),'Estimated IC50',15.5,'y-axis-title');
  L.c.forEach((cx,k)=>{
    const name=k?'high':'low';
    const b=(k?drugHighBoxes:drugLowBoxes)[i];
    const vg=mk('line',{x1:cx,x2:cx,y1:Y0,y2:Y1,stroke:'#fff','stroke-width':1},g);
    
    
    const wh=mk('line',{x1:cx,x2:cx,y1:y(b[3]),y2:y(b[4]),stroke:'#444','stroke-width':1.3},g);
    
    
    const bx=mk('rect',{x:cx-L.hw,width:2*L.hw,y:y(b[0]),height:y(b[2])-y(b[0]),fill:k?HIGH:LOW,stroke:'#3a3a3a','stroke-width':.9},g);
    
    
    const md=mk('line',{x1:cx-L.hw,x2:cx+L.hw,y1:y(b[1]),y2:y(b[1]),stroke:'#333','stroke-width':1.5},g);
    
    
    (k?drugHighOutliers:drugLowOutliers)[i].forEach(o=>{
      const c=mk('circle',{cx:cx,cy:y(o),r:2,fill:'#333'},g);
      
      
    });
    const tk=mk('line',{x1:cx,x2:cx,y1:Y1,y2:Y1+2.5,stroke:'#444','stroke-width':.8},g);
    
    
    const ax=cx+6,ay=Y1+10;
    const lb=mk('text',{transform:'translate('+ax+','+ay+') rotate(-45)','text-anchor':'end','font-size':10.5,'font-weight':'700',fill:'#4d4d4d'},g,drugCategories[k]);
    
    
  });
  pLabel(g,L.p,L.r[3],drugP[i],11.6,'p-value');
});
</script>
</body>
</html>
